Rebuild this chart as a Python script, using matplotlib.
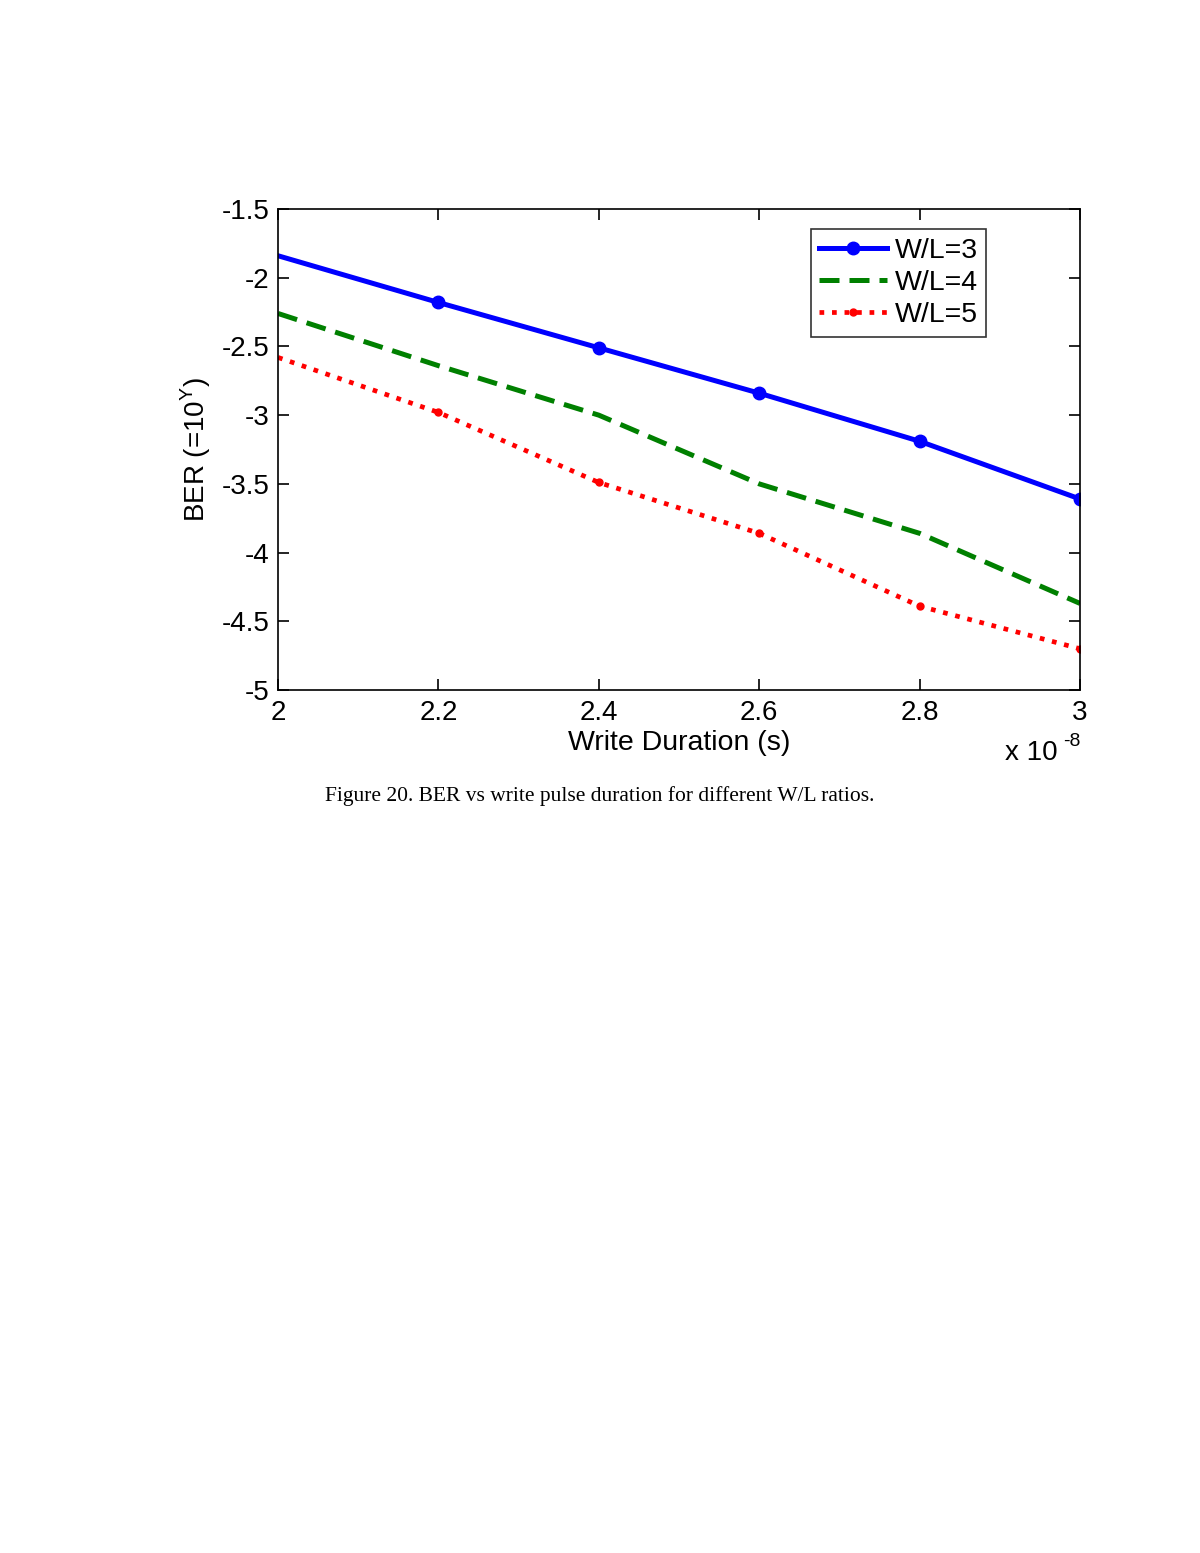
import matplotlib; matplotlib.use("Agg")
import matplotlib.pyplot as plt

# write duration in units of 1e-8 s
dur = [2.0, 2.2, 2.4, 2.6, 2.8, 3.0]
ber_wl3 = [-1.84, -2.18, -2.51, -2.84, -3.19, -3.61]
ber_wl4 = [-2.26, -2.64, -3.00, -3.50, -3.86, -4.37]
ber_wl5 = [-2.58, -2.98, -3.49, -3.86, -4.39, -4.70]
labels = ["W/L=3", "W/L=4", "W/L=5"]
xticks = [2, 2.2, 2.4, 2.6, 2.8, 3]
yticks = [-5, -4.5, -4, -3.5, -3, -2.5, -2, -1.5]

plt.rcParams["font.family"] = ["Liberation Sans", "DejaVu Sans"]
plt.rcParams["mathtext.fontset"] = "custom"
plt.rcParams["mathtext.rm"] = "Liberation Sans"

fig = plt.figure(figsize=(12, 15.53), dpi=100)
ax = fig.add_axes([0.2317, 0.5557, 0.6683, 0.3097])

ax.plot(dur, ber_wl3, "-", color="#0000ff", lw=3.6, marker="o", ms=9, markevery=[1, 2, 3, 4, 5],
        label=labels[0])
ax.plot(dur, ber_wl4, "--", color="#008000", lw=3.6, dashes=(4, 2), label=labels[1])
ax.plot(dur, ber_wl5, ":", color="#ff0000", lw=3.4, marker="o", ms=5, markevery=[1, 2, 3, 4, 5],
        label=labels[2])

ax.set_xlim(2, 3); ax.set_ylim(-5, -1.5)
ax.set_xticks(xticks); ax.set_xticklabels(["2", "2.2", "2.4", "2.6", "2.8", "3"])
ax.set_yticks(yticks); ax.set_yticklabels(["-5", "-4.5", "-4", "-3.5", "-3", "-2.5", "-2", "-1.5"])
ax.tick_params(direction="in", top=True, right=True, length=8, width=1.2, labelsize=20)
ax.tick_params(axis="x", pad=7)
ax.tick_params(axis="y", pad=6)
for s in ax.spines.values():
    s.set_linewidth(1.2)

ax.set_xlabel("Write Duration (s)", fontsize=20.5, labelpad=3)
ax.set_ylabel("BER (=10$^{\\mathrm{Y}}$)", fontsize=20, labelpad=6)
fig.text(1005 / 1200, 1 - 760 / 1553, "x 10", fontsize=20, ha="left", va="baseline")
fig.text(1063 / 1200, 1 - 746 / 1553, "-8", fontsize=14, ha="left", va="baseline")

leg = ax.legend(loc="upper right", bbox_to_anchor=(0.883, 0.958), fontsize=20.5, frameon=True,
                fancybox=False, edgecolor="black", handlelength=2.4, handletextpad=0.25,
                borderpad=0.3, labelspacing=0.22, borderaxespad=0)
leg.get_frame().set_linewidth(1.2)

fig.text(0.5, 1 - 796 / 1553, "Figure 20. BER vs write pulse duration for different W/L ratios.",
         family=["Liberation Serif"], fontsize=15.5, ha="center", va="center")

fig.savefig("out.png", dpi=100)
